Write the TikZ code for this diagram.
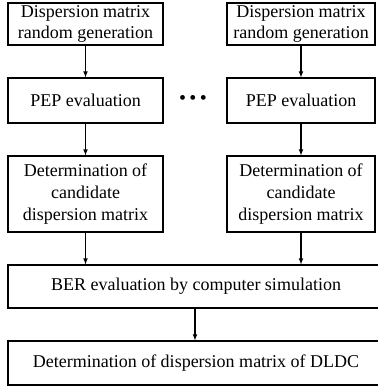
\documentclass[tikz,border=0pt]{standalone}
\usepackage{fontspec}
\setmainfont{Liberation Serif}
\begin{document}
\begin{tikzpicture}[x=1pt,y=-1pt,>=latex]
    \tikzstyle{block}=[draw=black,line width=1.1pt,align=center,inner sep=0pt,font=\rmfamily\fontsize{18}{21.7}\selectfont]
    \tikzstyle{flow}=[->,line width=1.1pt]
    \useasboundingbox (0,0) rectangle (377,387);

    \node[block,minimum width=155,minimum height=42] at (85.5,24) (gen1) {Dispersion matrix\\random generation};
    \node[block,minimum width=155,minimum height=45] at (85.5,100.5) (pep1) {PEP evaluation};
    \node[block,minimum width=155,minimum height=76] at (85.5,194) (cand1) {Determination of\\candidate\\dispersion matrix};
    \node[block,minimum width=148,minimum height=42] at (301,24) (gen2) {Dispersion matrix\\random generation};
    \node[block,minimum width=148,minimum height=45] at (301,100.5) (pep2) {PEP evaluation};
    \node[block,minimum width=148,minimum height=76] at (301,194) (cand2) {Determination of\\candidate\\dispersion matrix};
    \node[font=\fontsize{20}{20}\selectfont] at (193,100) (dots) {\textbullet\,\textbullet\,\textbullet};
    \node[block,minimum width=392,minimum height=43] at (204,286.5) (ber) {\hspace*{-16pt}BER evaluation by computer simulation};
    \node[block,minimum width=392,minimum height=44] at (204,363) (dldc) {\hspace*{-16pt}Determination of dispersion matrix of DLDC};
    \coordinate (mid) at (195,325);

    \draw[flow] (gen1) -- (pep1);
    \draw[flow] (pep1) -- (cand1);
    \draw[flow] (cand1.south) -- (cand1.south |- ber.north);
    \draw[flow] (gen2) -- (pep2);
    \draw[flow] (pep2) -- (cand2);
    \draw[flow] (cand2.south) -- (cand2.south |- ber.north);
    \draw[flow] (mid |- ber.south) -- (mid |- dldc.north);
\end{tikzpicture}
\end{document}
